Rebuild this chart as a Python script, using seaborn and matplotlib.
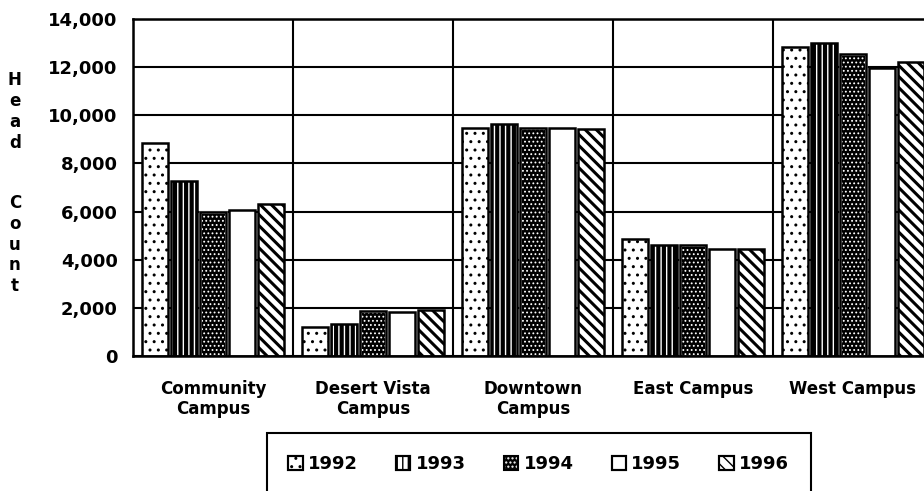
import matplotlib.pyplot as plt
import seaborn as sns
import pandas as pd
from matplotlib.patches import Rectangle, Patch

campuses = ["Community\nCampus", "Desert Vista\nCampus", "Downtown\nCampus",
            "East Campus", "West Campus"]
years = ["1992", "1993", "1994", "1995", "1996"]
count_1992 = [8850, 1200, 9470, 4860, 12840]
count_1993 = [7270, 1330, 9640, 4610, 13000]
count_1994 = [5980, 1880, 9470, 4610, 12550]
count_1995 = [6080, 1830, 9470, 4450, 11960]
count_1996 = [6310, 1920, 9450, 4430, 12200]
y_ticks = [0, 2000, 4000, 6000, 8000, 10000, 12000, 14000]

series = [count_1992, count_1993, count_1994, count_1995, count_1996]
rows = []
for yr, vals in zip(years, series):
    for c, v in zip(campuses, vals):
        rows.append({"campus": c, "year": yr, "count": v})
df = pd.DataFrame(rows)

sns.set_style("white")
plt.rcParams["font.family"] = ["DejaVu Sans"]
plt.rcParams["font.weight"] = "bold"
plt.rcParams["text.color"] = "black"
plt.rcParams["xtick.color"] = "black"
plt.rcParams["ytick.color"] = "black"
plt.rcParams["hatch.linewidth"] = 1.0

fig = plt.figure(figsize=(9.24, 4.91), dpi=100)
ax = fig.add_axes([0.1439, 0.2749, 0.8658, 0.6864])

sns.barplot(data=df, x="campus", y="count", hue="year", order=campuses,
            hue_order=years, width=0.9, dodge=True, ax=ax, legend=False,
            saturation=1)

# per-year fill: face, hatch, hatch colour, hatch line width
styles = [
    ("white", "..", "black", 1.0),
    ("white", "|||", "black", 3.0),
    ("black", "....", "white", 0.8),
    ("white", "", "black", 1.0),
    ("white", "\\\\\\", "black", 2.2),
]


def set_hlw(p, hlw):
    if hasattr(p, "set_hatch_linewidth"):
        p.set_hatch_linewidth(hlw)
    else:
        p._hatch_linewidth = hlw


handles = []
for cont, (fc, hatch, hc, hlw) in zip(ax.containers, styles):
    for p in cont.patches:
        # leave a small gap between neighbouring bars
        w = p.get_width()
        p.set_x(p.get_x() + w * 0.05)
        p.set_width(w * 0.9)
        p.set_facecolor(fc)
        p.set_hatch(hatch)
        p.set_edgecolor(hc)
        p.set_linewidth(1.8)
        set_hlw(p, hlw)
        if hc == "white":
            # black outline around the dark bar
            ax.add_patch(Rectangle((p.get_x(), p.get_y()), p.get_width(),
                                   p.get_height(), fill=False,
                                   edgecolor="black", linewidth=1.8, zorder=3))
    h_fill = Patch(facecolor=fc, hatch=hatch, edgecolor=hc, linewidth=1.5)
    set_hlw(h_fill, min(hlw, 1.5))
    h_edge = Patch(fill=False, edgecolor="black", linewidth=1.5)
    handles.append((h_fill, h_edge))

ax.set_xlim(-0.5, 4.5)
ax.set_ylim(0, 14000)
ax.set_yticks(y_ticks)
ax.set_yticklabels([f"{t:,}" for t in y_ticks], fontsize=13, fontweight="bold")
ax.set_xticks(range(len(campuses)))
ax.set_xticklabels(campuses, fontsize=12, fontweight="bold")
ax.set_xticks([i - 0.5 for i in range(len(campuses) + 1)], minor=True)
ax.tick_params(axis="x", which="major", length=0, pad=17)
ax.tick_params(axis="x", which="minor", length=8, width=1.5, direction="out",
               color="black")
ax.tick_params(axis="y", length=5, width=1.5, direction="out", color="black",
               pad=6)
ax.set_axisbelow(True)
ax.grid(axis="y", color="black", linewidth=1.5)
ax.grid(axis="x", which="minor", color="black", linewidth=1.5)
ax.set_xlabel("")
ax.set_ylabel("")
for s in ax.spines.values():
    s.set_color("black")
    s.set_linewidth(1.8)

fig.text(0.016, 0.855, "\n".join("Head"), ha="center", va="top",
         fontsize=12, fontweight="bold", linespacing=1.2)
fig.text(0.016, 0.605, "\n".join("Count"), ha="center", va="top",
         fontsize=12, fontweight="bold", linespacing=1.2)

leg = ax.legend(handles, years, loc="center", ncol=5,
                bbox_to_anchor=(0.583, 0.055), bbox_transform=fig.transFigure,
                prop={"size": 13, "weight": "bold"}, frameon=True,
                fancybox=False, framealpha=1, handlelength=0.8,
                handleheight=0.8, handletextpad=0.3, columnspacing=2.1,
                borderpad=1.2, borderaxespad=0)
leg.get_frame().set_edgecolor("black")
leg.get_frame().set_linewidth(1.5)

fig.savefig("out.png", dpi=100, facecolor="white")
